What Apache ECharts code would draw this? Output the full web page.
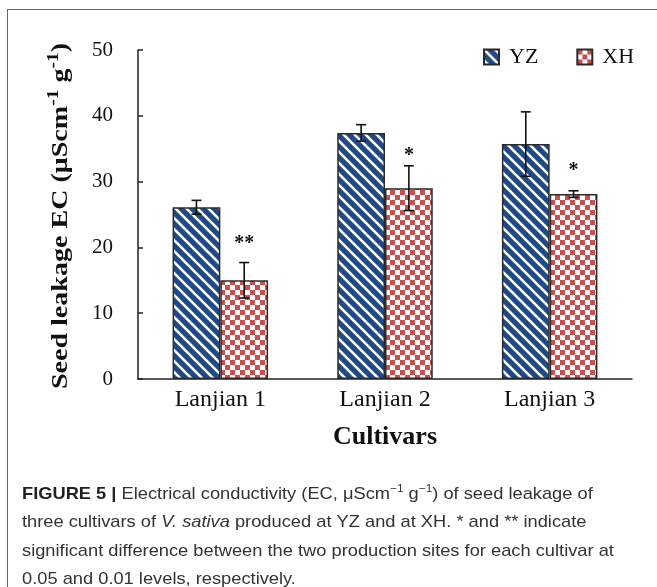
<!DOCTYPE html>
<html>
<head>
<meta charset="utf-8">
<script src="https://cdn.jsdelivr.net/npm/echarts@6/dist/echarts.min.js"></script>
<style>
html,body{margin:0;padding:0;background:#fff;}
#c{width:657px;height:587px;}
</style>
</head>
<body>
<div id="c"></div>
<script>
// ---- data ----
const categories = ['Lanjian 1', 'Lanjian 2', 'Lanjian 3'];
const seriesNames = ['YZ', 'XH'];
const yzMean = [26.1, 37.4, 35.7];
const yzErr  = [1.05, 1.25, 4.9];
const xhMean = [15.0, 29.0, 28.1];
const xhErr  = [2.7, 3.4, 0.5];
const sigMarks = ['**', '*', '*'];
const sigLevel = [20.5, 33.9, 31.7];
const yTicks = [0, 10, 20, 30, 40, 50];

// ---- patterns ----
function stripeTile() {
  const c = document.createElement('canvas');
  c.width = 11; c.height = 11;
  const g = c.getContext('2d');
  g.fillStyle = '#1f4a86';
  g.fillRect(0, 0, 11, 11);
  g.strokeStyle = '#ffffff';
  g.lineWidth = 2.6;
  g.beginPath();
  for (let k = -1; k <= 1; k++) {
    g.moveTo(k * 11 - 2, -2);
    g.lineTo(k * 11 + 13, 13);
  }
  g.stroke();
  return c;
}
function checkTile() {
  const s = 5;
  const c = document.createElement('canvas');
  c.width = 2 * s; c.height = 2 * s;
  const g = c.getContext('2d');
  g.fillStyle = '#ffffff';
  g.fillRect(0, 0, 2 * s, 2 * s);
  g.fillStyle = '#c9504f';
  g.fillRect(0, 0, s, s);
  g.fillRect(s, s, s, s);
  return c;
}
const yzFill = { image: stripeTile(), repeat: 'repeat' };
const xhFill = { image: checkTile(), repeat: 'repeat' };

const CAT_GAP = 0.42;
function errRender(sideSign) {
  return function (params, api) {
    const band = api.size([1, 0])[0];
    const bw = band * (1 - CAT_GAP) / 2;
    const lo = api.coord([api.value(0), api.value(1)]);
    const hi = api.coord([api.value(0), api.value(2)]);
    const x = lo[0] + sideSign * bw / 2;
    const cap = 5;
    const st = { stroke: '#111', lineWidth: 1.6 };
    return {
      type: 'group',
      children: [
        { type: 'line', shape: { x1: x, y1: lo[1], x2: x, y2: hi[1] }, style: st },
        { type: 'line', shape: { x1: x - cap, y1: lo[1], x2: x + cap, y2: lo[1] }, style: st },
        { type: 'line', shape: { x1: x - cap, y1: hi[1], x2: x + cap, y2: hi[1] }, style: st }
      ]
    };
  };
}
function sigRender(params, api) {
  const band = api.size([1, 0])[0];
  const bw = band * (1 - CAT_GAP) / 2;
  const p = api.coord([api.value(0), api.value(1)]);
  return {
    type: 'text',
    x: p[0] + bw / 2,
    y: p[1],
    style: {
      text: sigMarks[params.dataIndex],
      font: 'bold 20px "Liberation Serif", "Times New Roman", serif',
      fill: '#111',
      align: 'center',
      verticalAlign: 'middle'
    }
  };
}

const yzErrData = categories.map((c, i) => [i, yzMean[i] - yzErr[i], yzMean[i] + yzErr[i]]);
const xhErrData = categories.map((c, i) => [i, xhMean[i] - xhErr[i], xhMean[i] + xhErr[i]]);
const sigData = categories.map((c, i) => [i, sigLevel[i]]);

const serif = '"Liberation Serif", "Times New Roman", serif';
const sans = '"Liberation Sans", Arial, sans-serif';
const chart = echarts.init(document.getElementById('c'), null, { renderer: 'canvas' });
chart.setOption({
  animation: false,
  backgroundColor: '#ffffff',
  grid: { left: 138, right: 25, top: 50, bottom: 208, containLabel: false },
  legend: {
    left: 483, top: 46, padding: 0,
    itemWidth: 15, itemHeight: 15, itemGap: 38,
    icon: 'rect',
    data: seriesNames,
    textStyle: { fontFamily: serif, fontSize: 22, color: '#111', padding: [0, 0, 0, 5] }
  },
  xAxis: {
    type: 'category',
    data: categories,
    boundaryGap: true,
    axisLine: { lineStyle: { color: '#222', width: 1.5 } },
    axisTick: { inside: true, length: 6, lineStyle: { color: '#222', width: 1.5 } },
    axisLabel: { fontFamily: serif, fontSize: 24, color: '#111', margin: 9 },
    name: 'Cultivars',
    nameLocation: 'middle',
    nameGap: 45,
    nameTextStyle: { fontFamily: serif, fontSize: 26, fontWeight: 'bold', color: '#111' }
  },
  yAxis: {
    type: 'value',
    min: 0, max: 50, interval: 10,
    splitLine: { show: false },
    axisLine: { show: true, lineStyle: { color: '#222', width: 1.5 } },
    axisTick: { show: true, inside: true, length: 5, lineStyle: { color: '#222', width: 1.5 } },
    axisLabel: {
      fontFamily: serif, fontSize: 21, color: '#111', margin: 25,
      formatter: v => (yTicks.indexOf(v) >= 0 ? String(v) : '')
    }
  },
  series: [
    {
      name: 'YZ', type: 'bar', data: yzMean,
      barGap: '0%', barCategoryGap: (CAT_GAP * 100) + '%',
      itemStyle: { color: yzFill, borderColor: '#2a2a2a', borderWidth: 1.5 }
    },
    {
      name: 'XH', type: 'bar', data: xhMean,
      barGap: '0%', barCategoryGap: (CAT_GAP * 100) + '%',
      itemStyle: { color: xhFill, borderColor: '#2a2a2a', borderWidth: 1.5 }
    },
    { type: 'custom', renderItem: errRender(-1), data: yzErrData, encode: { x: 0, y: [1, 2] }, z: 5 },
    { type: 'custom', renderItem: errRender(1), data: xhErrData, encode: { x: 0, y: [1, 2] }, z: 5 },
    { type: 'custom', renderItem: sigRender, data: sigData, encode: { x: 0, y: 1 }, z: 6 }
  ],
  graphic: [
    { type: 'line', shape: { x1: 7, y1: 9.5, x2: 657, y2: 9.5 }, style: { stroke: '#666', lineWidth: 1 } },
    { type: 'line', shape: { x1: 7.5, y1: 9, x2: 7.5, y2: 587 }, style: { stroke: '#666', lineWidth: 1 } },
    {
      type: 'text', x: 61, y: 216, rotation: Math.PI / 2, scaleX: 1.22,
      style: {
        text: '{t|Seed leakage EC (μScm}{s|-1}{t| g}{s|-1}{t|)}',
        align: 'center', verticalAlign: 'middle',
        rich: {
          t: { fontFamily: serif, fontSize: 23, fontWeight: 'bold', fill: '#111', lineHeight: 30 },
          s: { fontFamily: serif, fontSize: 16, fontWeight: 'bold', fill: '#111', verticalAlign: 'top', lineHeight: 30 }
        }
      }
    },
    {
      type: 'text', x: 22, y: 480, scaleX: 1.075,
      style: {
        text: '{b|FIGURE 5 |} Electrical conductivity (EC, μScm{sup|−1} g{sup|−1}) of seed leakage of\n' +
              'three cultivars of {i|V. sativa} produced at YZ and at XH. * and ** indicate\n' +
              'significant difference between the two production sites for each cultivar at\n' +
              '0.05 and 0.01 levels, respectively.',
        font: '17px ' + sans,
        fill: '#333',
        lineHeight: 28.5,
        rich: {
          b: { fontWeight: 'bold', fontSize: 17, fontFamily: sans, fill: '#222', lineHeight: 28.5 },
          i: { fontStyle: 'italic', fontSize: 17, fontFamily: sans, fill: '#333', lineHeight: 28.5 },
          sup: { fontSize: 11, fontFamily: sans, fill: '#333', verticalAlign: 'top', lineHeight: 28.5, padding: [3, 0, 0, 0] }
        }
      }
    }
  ]
});
</script>
</body>
</html>
